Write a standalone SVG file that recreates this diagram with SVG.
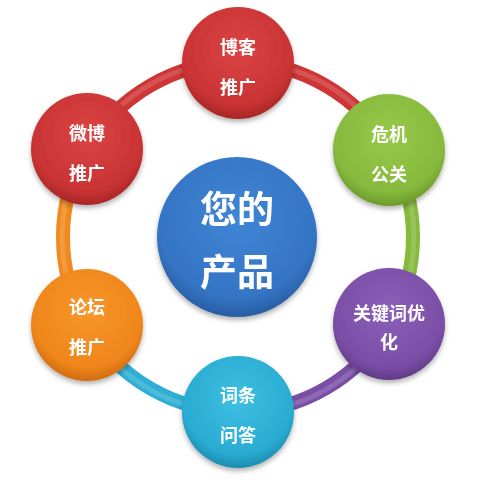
<svg xmlns="http://www.w3.org/2000/svg" width="480" height="480" viewBox="0 0 480 480">
<defs>
<filter id="sh" x="-20%" y="-20%" width="140%" height="150%">
<feDropShadow dx="0" dy="3" stdDeviation="2.5" flood-color="#000" flood-opacity="0.3"/>
</filter>
<radialGradient id="gRed" cx="50%" cy="38%" r="62%"><stop offset="0" stop-color="#dc4444"/><stop offset="0.8" stop-color="#c93333"/><stop offset="1" stop-color="#a82626"/></radialGradient>
<radialGradient id="gGreen" cx="50%" cy="38%" r="62%"><stop offset="0" stop-color="#97c94b"/><stop offset="0.8" stop-color="#86b93c"/><stop offset="1" stop-color="#6c9a2c"/></radialGradient>
<radialGradient id="gPurple" cx="50%" cy="38%" r="62%"><stop offset="0" stop-color="#8c5fb8"/><stop offset="0.8" stop-color="#7a4ea6"/><stop offset="1" stop-color="#613b88"/></radialGradient>
<radialGradient id="gCyan" cx="50%" cy="38%" r="62%"><stop offset="0" stop-color="#3cc0e2"/><stop offset="0.8" stop-color="#2aabd2"/><stop offset="1" stop-color="#1d8cb0"/></radialGradient>
<radialGradient id="gOrange" cx="50%" cy="38%" r="62%"><stop offset="0" stop-color="#f7962a"/><stop offset="0.8" stop-color="#ef861b"/><stop offset="1" stop-color="#cf6c10"/></radialGradient>
<radialGradient id="gBlue" cx="50%" cy="38%" r="62%"><stop offset="0" stop-color="#3f86d6"/><stop offset="0.8" stop-color="#3574c4"/><stop offset="1" stop-color="#285ea3"/></radialGradient>
</defs>
<style>
.ring{fill:none;stroke-width:14;stroke-linecap:butt}
.hl{fill:none;stroke-width:5;stroke:#fff;stroke-opacity:0.15}
.t{font-family:"Noto Sans CJK SC","Noto Sans",sans-serif;font-weight:bold;fill:#fff;text-anchor:middle;dominant-baseline:central;font-size:18px}
.tc{font-size:37px}
</style>
<g id="connectors">
<path class="ring" stroke="#cf3535" d="M238 62 A175 175 0 0 1 389.55 149.5"/>
<path class="ring" stroke="#86b93c" d="M389.55 149.5 A175 175 0 0 1 389.55 324.5"/>
<path class="ring" stroke="#7a4ea6" d="M389.55 324.5 A175 175 0 0 1 238 412"/>
<path class="ring" stroke="#2eaed4" d="M238 412 A175 175 0 0 1 86.45 324.5"/>
<path class="ring" stroke="#f08a1e" d="M86.45 324.5 A175 175 0 0 1 86.45 149.5"/>
<path class="ring" stroke="#cf3535" d="M86.45 149.5 A175 175 0 0 1 238 62"/>
<circle class="hl" cx="238" cy="237" r="176"/>
</g>
<g id="center" filter="url(#sh)">
<circle cx="237" cy="237" r="80" fill="url(#gBlue)"/>
<text class="t tc" x="237" y="207">您的</text>
<text class="t tc" x="237" y="270">产品</text>
</g>
<g id="blog" filter="url(#sh)">
<circle cx="238" cy="63" r="56" fill="url(#gRed)"/>
<text class="t" x="238" y="46">博客</text>
<text class="t" x="238" y="86">推广</text>
</g>
<g id="crisis" filter="url(#sh)">
<circle cx="389" cy="150" r="56" fill="url(#gGreen)"/>
<text class="t" x="389" y="133">危机</text>
<text class="t" x="389" y="173">公关</text>
</g>
<g id="seo" filter="url(#sh)">
<circle cx="389" cy="324" r="56" fill="url(#gPurple)"/>
<text class="t" x="389" y="312">关键词优</text>
<text class="t" x="389" y="341">化</text>
</g>
<g id="qa" filter="url(#sh)">
<circle cx="238" cy="412" r="56" fill="url(#gCyan)"/>
<text class="t" x="238" y="394">词条</text>
<text class="t" x="238" y="434">问答</text>
</g>
<g id="forum" filter="url(#sh)">
<circle cx="87" cy="325" r="56" fill="url(#gOrange)"/>
<text class="t" x="87" y="306">论坛</text>
<text class="t" x="87" y="346">推广</text>
</g>
<g id="weibo" filter="url(#sh)">
<circle cx="87" cy="149" r="56" fill="url(#gRed)"/>
<text class="t" x="87" y="132">微博</text>
<text class="t" x="87" y="172">推广</text>
</g>
</svg>
